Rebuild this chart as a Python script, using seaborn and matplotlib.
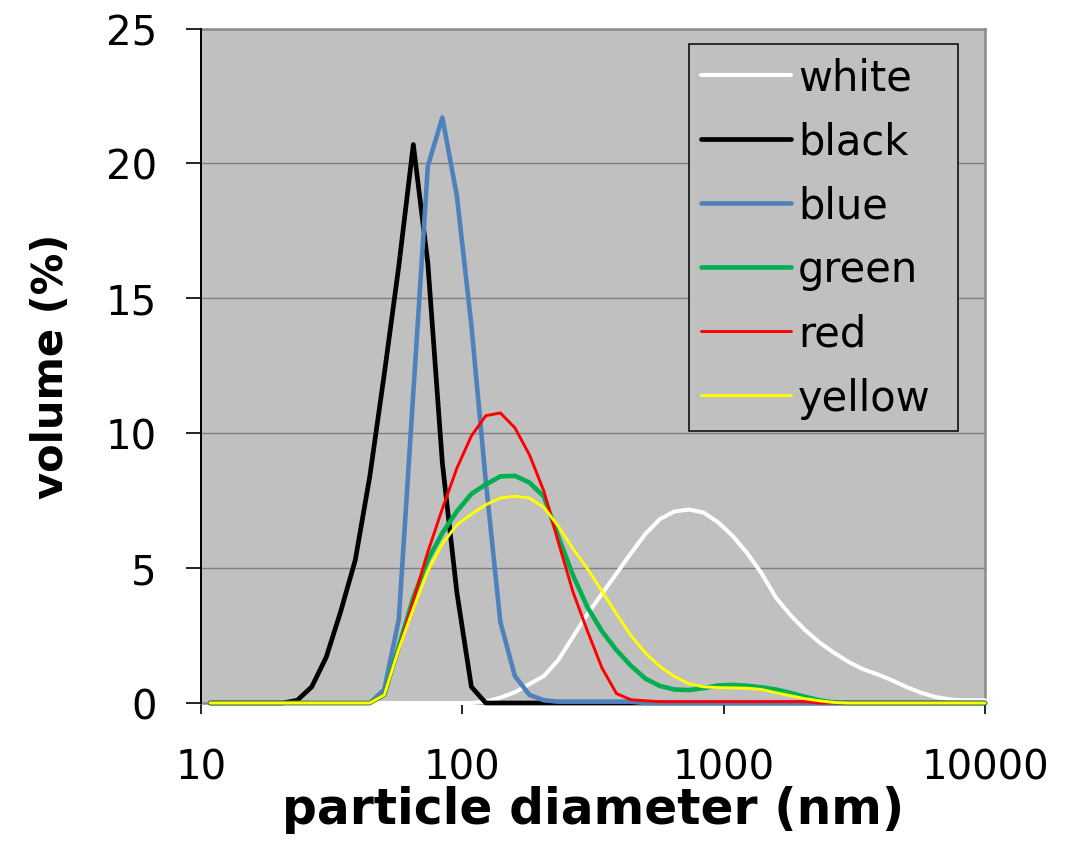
import numpy as np
import pandas as pd
import matplotlib
matplotlib.use("Agg")
import matplotlib.pyplot as plt
from matplotlib.ticker import FixedLocator, NullLocator, FixedFormatter
import seaborn as sns

# ---------------- data ----------------
diameter_nm = [10.84, 12.32, 14.00, 15.91, 18.08, 20.55, 23.35, 26.53, 30.15, 34.26,
               38.94, 44.25, 50.28, 57.14, 64.93, 73.79, 83.85, 95.29, 108.3, 123.0,
               139.8, 158.9, 180.6, 205.2, 233.2, 265.0, 301.1, 342.2, 388.9, 441.9,
               502.2, 570.7, 648.5, 737.0, 837.5, 951.7, 1081, 1229, 1397, 1587,
               1804, 2050, 2329, 2647, 3008, 3418, 3884, 4414, 5016, 5700,
               6478, 7361, 8365, 9506, 10000]

white = [0, 0, 0, 0, 0, 0, 0, 0, 0, 0,
         0, 0, 0, 0, 0, 0, 0, 0, 0, 0.05,
         0.2, 0.4, 0.7, 1.0, 1.6, 2.45, 3.3, 4.05, 4.8, 5.55,
         6.27, 6.82, 7.1, 7.17, 7.06, 6.7, 6.2, 5.56, 4.8, 3.9,
         3.25, 2.7, 2.24, 1.86, 1.52, 1.25, 1.06, 0.84, 0.59, 0.38,
         0.22, 0.13, 0.1, 0.1, 0.1]

black = [0, 0, 0, 0, 0, 0, 0.1, 0.6, 1.7, 3.4,
         5.3, 8.4, 12.2, 16.2, 20.7, 16.3, 8.9, 4.1, 0.6, 0,
         0, 0, 0, 0, 0, 0, 0, 0, 0, 0,
         0, 0, 0, 0, 0, 0, 0, 0, 0, 0,
         0, 0, 0, 0, 0, 0, 0, 0, 0, 0,
         0, 0, 0, 0, 0]

blue = [0, 0, 0, 0, 0, 0, 0, 0, 0, 0,
        0, 0, 0.5, 3.1, 11.5, 19.9, 21.7, 18.8, 14.0, 8.2,
        3.0, 1.0, 0.3, 0.1, 0.05, 0.05, 0.05, 0.05, 0.05, 0.05,
        0, 0, 0, 0, 0, 0, 0, 0, 0, 0,
        0, 0, 0, 0, 0, 0, 0, 0, 0, 0,
        0, 0, 0, 0, 0]

green = [0, 0, 0, 0, 0, 0, 0, 0, 0, 0,
         0, 0, 0.3, 2.1, 3.9, 5.3, 6.3, 7.1, 7.75, 8.1,
         8.4, 8.42, 8.17, 7.65, 6.15, 4.74, 3.55, 2.66, 1.96, 1.38,
         0.9, 0.63, 0.5, 0.48, 0.55, 0.65, 0.67, 0.64, 0.58, 0.5,
         0.37, 0.23, 0.1, 0.02, 0, 0, 0, 0, 0, 0,
         0, 0, 0, 0, 0]

red = [0, 0, 0, 0, 0, 0, 0, 0, 0, 0,
       0, 0, 0.3, 2.0, 3.8, 5.6, 7.2, 8.7, 9.9, 10.65,
       10.75, 10.2, 9.2, 7.85, 5.95, 4.12, 2.67, 1.3, 0.35, 0.12,
       0.08, 0.05, 0.05, 0.05, 0.05, 0.05, 0.05, 0.05, 0.05, 0.05,
       0.05, 0.05, 0, 0, 0, 0, 0, 0, 0, 0,
       0, 0, 0, 0, 0]

yellow = [0, 0, 0, 0, 0, 0, 0, 0, 0, 0,
          0, 0, 0.3, 2.0, 3.5, 4.9, 5.9, 6.6, 7.0, 7.35,
          7.6, 7.66, 7.6, 7.25, 6.55, 5.72, 4.98, 4.15, 3.3, 2.5,
          1.85, 1.35, 0.98, 0.71, 0.6, 0.57, 0.56, 0.55, 0.5, 0.38,
          0.27, 0.16, 0.08, 0.02, 0, 0, 0, 0, 0, 0,
          0, 0, 0, 0, 0]

series_names = ["white", "black", "blue", "green", "red", "yellow"]
series_values = [white, black, blue, green, red, yellow]
series_colors = ["#FFFFFF", "#000000", "#4F81BD", "#00B050", "#FF0000", "#FFFF00"]
series_widths = [2.9, 3.4, 3.3, 3.3, 2.1, 2.1]

x_ticks = [10, 100, 1000, 10000]
x_tick_labels = ["10", "100", "1000", "10000"]
y_ticks = [0, 5, 10, 15, 20, 25]
y_tick_labels = ["0", "5", "10", "15", "20", "25"]

# ---------------- figure ----------------
sns.set_style("white")
plt.rcParams["font.family"] = ["DejaVu Sans"]
plt.rcParams["text.color"] = "black"
plt.rcParams["axes.labelcolor"] = "black"
plt.rcParams["xtick.color"] = "black"
plt.rcParams["ytick.color"] = "black"

W, H = 1071, 845
fig = plt.figure(figsize=(W / 100, H / 100), dpi=100)
ax_left, ax_right, ax_top, ax_bottom = 201, 985, 29.5, 704
ax = fig.add_axes([ax_left / W, (H - ax_bottom) / H,
                   (ax_right - ax_left) / W, (ax_bottom - ax_top) / H])
ax.set_facecolor("#C0C0C0")

for name, vals, col, lw in zip(series_names, series_values, series_colors, series_widths):
    df = pd.DataFrame({"diameter": diameter_nm, "volume": vals})
    sns.lineplot(data=df, x="diameter", y="volume", ax=ax, color=col, linewidth=lw,
                 sort=False, errorbar=None, legend=False, clip_on=False, zorder=3)

ax.set_xscale("log")
ax.set_xlim(10, 10000)
ax.set_ylim(0, 25)

ax.xaxis.set_major_locator(FixedLocator(x_ticks))
ax.xaxis.set_major_formatter(FixedFormatter(x_tick_labels))
ax.xaxis.set_minor_locator(NullLocator())
ax.yaxis.set_major_locator(FixedLocator(y_ticks))
ax.yaxis.set_major_formatter(FixedFormatter(y_tick_labels))

ax.yaxis.grid(True, color="#7F7F7F", linewidth=1.0, zorder=1)
ax.xaxis.grid(False)
ax.set_axisbelow(True)

for s in ["top", "right", "bottom"]:
    ax.spines[s].set_visible(True)
    ax.spines[s].set_color("#8A8A8A")
    ax.spines[s].set_linewidth(1.8)
ax.spines["left"].set_color("black")
ax.spines["left"].set_linewidth(1.4)
ax.spines["left"].set_zorder(4)

ax.tick_params(axis="y", direction="out", length=10.8, width=1.2, color="black",
               labelcolor="black", pad=21, labelsize=29, left=True)
ax.tick_params(axis="x", direction="out", length=8, width=1.2, color="black",
               labelcolor="black", pad=24, labelsize=29, bottom=True)

ax.set_xlabel("particle diameter (nm)", fontsize=35, fontweight="bold", color="black")
ax.xaxis.set_label_coords(0.5, -0.1215)
ax.set_ylabel("volume (%)", fontsize=30, fontweight="bold", color="black")
ax.yaxis.set_label_coords((72 - ax_left) / (ax_right - ax_left), 0.5)

# legend
leg_x0, leg_x1, leg_y0, leg_y1 = 689, 958, 45, 430
handles = ax.lines[:len(series_names)]
leg = ax.legend(handles, series_names, loc="upper left",
                bbox_to_anchor=(leg_x0 / W, (H - leg_y1) / H,
                                (leg_x1 - leg_x0) / W, (leg_y1 - leg_y0) / H),
                bbox_transform=fig.transFigure, mode="expand", borderaxespad=0,
                fontsize=30, handlelength=2.15, handletextpad=0.17,
                labelspacing=0.53, borderpad=0.29, fancybox=False, shadow=False,
                frameon=True, framealpha=1.0)
leg.get_frame().set_facecolor("#C0C0C0")
leg.get_frame().set_edgecolor("black")
leg.get_frame().set_linewidth(1.1)
leg.set_zorder(5)
for t in leg.get_texts():
    t.set_color("black")

fig.savefig("out.png", dpi=100, facecolor="white")
